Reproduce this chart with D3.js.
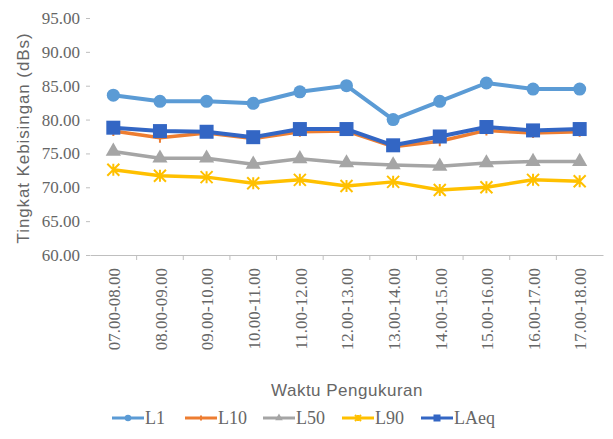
<!DOCTYPE html>
<html><head><meta charset="utf-8">
<script src="https://cdn.jsdelivr.net/npm/d3@7"></script>
<style>body{margin:0;background:#fff}svg{display:block}</style>
</head><body><svg id="c" width="613" height="439"></svg>
<script>
const categories = ["07.00-08.00","08.00-09.00","09.00-10.00","10.00-11.00","11.00-12.00","12.00-13.00","13.00-14.00","14.00-15.00","15.00-16.00","16.00-17.00","17.00-18.00"];
const L1   = [83.6, 82.7, 82.7, 82.4, 84.1, 85.0, 80.0, 82.7, 85.4, 84.5, 84.5];
const L10  = [78.3, 77.3, 78.0, 77.2, 78.2, 78.3, 76.0, 76.8, 78.4, 78.0, 78.2];
const L50  = [75.3, 74.3, 74.3, 73.4, 74.2, 73.6, 73.3, 73.1, 73.6, 73.8, 73.8];
const L90  = [72.6, 71.7, 71.5, 70.6, 71.1, 70.2, 70.8, 69.6, 70.0, 71.1, 70.9];
const LAeq = [78.8, 78.3, 78.2, 77.4, 78.6, 78.6, 76.2, 77.5, 78.9, 78.4, 78.6];
const yTicks = [60, 65, 70, 75, 80, 85, 90, 95];
const seriesNames = ["L1","L10","L50","L90","LAeq"];

const colors = {L1:"#5b9bd5", L10:"#ed7d31", L50:"#a5a5a5", L90:"#ffc000", LAeq:"#3366c4"};
const widths = {L1:4, L10:3.5, L50:3.5, L90:3.5, LAeq:4};
const data = {L1, L10, L50, L90, LAeq};

const svg = d3.select("#c");
const x = d3.scaleBand().domain(categories).range([90, 603]);
const y = d3.scaleLinear().domain([60, 95]).range([255, 18]);
const cx = d => x(d) + x.bandwidth()/2;
const txt = "#666666";

// y axis (no line)
const ya = svg.append("g").attr("transform","translate(90,0)")
  .call(d3.axisLeft(y).tickValues(yTicks).tickSize(4).tickFormat(d3.format(".2f")));
ya.select(".domain").remove();
ya.selectAll("line").attr("stroke","#bfbfbf");
ya.selectAll("text").attr("font-family","Liberation Serif").attr("font-size",17).attr("fill",txt).attr("dx",-3);

// x axis
const xa = svg.append("g").attr("transform","translate(0,255)")
  .call(d3.axisBottom(x).tickSize(0).tickSizeOuter(0));
xa.select(".domain").attr("stroke","#bfbfbf").attr("stroke-width",1.2);
xa.selectAll("text").attr("font-family","Liberation Serif").attr("font-size",17).attr("fill",txt)
  .attr("transform","rotate(-90)").attr("text-anchor","end").attr("dy","0.4em").attr("x",-13).attr("y",0);
// ticks between categories
svg.append("g").selectAll("line").data(categories.slice(1)).join("line")
  .attr("x1",d=>x(d)).attr("x2",d=>x(d)).attr("y1",255).attr("y2",260).attr("stroke","#bfbfbf");

// axis titles
svg.append("text").attr("transform","translate(29,138) rotate(-90)").attr("text-anchor","middle")
  .attr("font-family","Liberation Sans").attr("font-size",17).attr("letter-spacing",0.9).attr("fill",txt).text("Tingkat Kebisingan (dBs)");
svg.append("text").attr("x",347).attr("y",396).attr("text-anchor","middle")
  .attr("font-family","Liberation Sans").attr("font-size",17).attr("letter-spacing",0.5).attr("fill",txt).text("Waktu Pengukuran");

function marker(g, name, px, py, s) {
  const c = colors[name];
  if (name === "L1") g.append("circle").attr("cx",px).attr("cy",py).attr("r",6.5*s).attr("fill",c);
  else if (name === "LAeq") g.append("rect").attr("x",px-7*s).attr("y",py-7*s).attr("width",14*s).attr("height",14*s).attr("fill",c);
  else if (name === "L50") g.append("path").attr("d",d3.symbol(d3.symbolTriangle, 100*s*s)()).attr("transform",`translate(${px},${py})`).attr("fill",c);
  else if (name === "L90") {
    const r = 6*s;
    g.append("path").attr("d",`M${px-r},${py-r}L${px+r},${py+r}M${px-r},${py+r}L${px+r},${py-r}M${px},${py-r}L${px},${py+r}`)
      .attr("stroke",c).attr("stroke-width",2);
  } else {
    const r = 5*s;
    g.append("path").attr("d",`M${px},${py-r}L${px},${py+r}M${px-r},${py}L${px+r},${py}`).attr("stroke",c).attr("stroke-width",2);
  }
}

const line = d3.line().x((d,i)=>cx(categories[i])).y(d=>y(d));
seriesNames.forEach(name => {
  const g = svg.append("g");
  g.append("path").datum(data[name]).attr("d",line).attr("fill","none")
    .attr("stroke",colors[name]).attr("stroke-width",widths[name]).attr("stroke-linejoin","round");
  data[name].forEach((v,i)=>marker(g, name, cx(categories[i]), y(v), 1));
});

// legend
const legX = [112, 185, 263, 342, 421];
seriesNames.forEach((name,i) => {
  const g = svg.append("g");
  const x0 = legX[i], yy = 418;
  g.append("line").attr("x1",x0).attr("x2",x0+32).attr("y1",yy).attr("y2",yy)
    .attr("stroke",colors[name]).attr("stroke-width",3);
  marker(g, name, x0+16, yy, 0.5);
  g.append("text").attr("x",x0+33).attr("y",yy).attr("dy","0.36em")
    .attr("font-family","Liberation Serif").attr("font-size",18).attr("fill",txt).text(name);
});
</script></body></html>
